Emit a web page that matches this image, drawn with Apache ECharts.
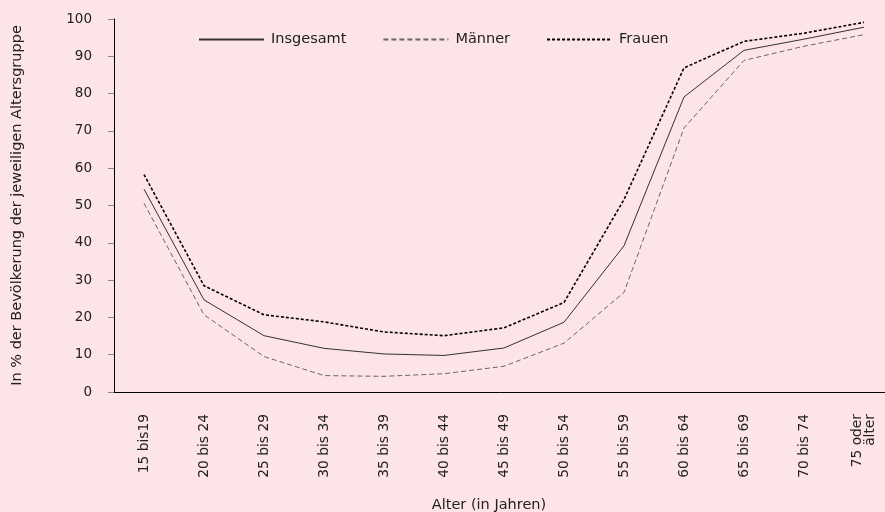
<!DOCTYPE html>
<html>
<head>
<meta charset="utf-8">
<script src="https://cdn.jsdelivr.net/npm/echarts@6/dist/echarts.min.js"></script>
<style>
  html, body { margin: 0; padding: 0; background: #fde4e6; }
  #chart { width: 885px; height: 512px; }
</style>
</head>
<body>
<div id="chart"></div>
<script>
// Altersgruppen
const categories = ['15 bis19', '20 bis 24', '25 bis 29', '30 bis 34', '35 bis 39', '40 bis 44',
  '45 bis 49', '50 bis 54', '55 bis 59', '60 bis 64', '65 bis 69', '70 bis 74', '75 oder\nälter']
// Anteile in %
const insgesamt = [54.4, 24.7, 15.1, 11.7, 10.2, 9.8, 11.8, 18.7, 39.2, 79.1, 91.6, 94.6, 97.8]
const maenner = [50.6, 20.7, 9.5, 4.4, 4.2, 4.9, 6.9, 13.1, 26.7, 70.8, 88.9, 92.7, 95.8]
const frauen = [58.3, 28.5, 20.7, 18.8, 16.1, 15.1, 17.2, 24.0, 51.6, 86.9, 94.0, 96.2, 99.1]
const yTicks = [0, 10, 20, 30, 40, 50, 60, 70, 80, 90, 100]

const font = 'DejaVu Sans'
const chart = echarts.init(document.getElementById('chart'))

const makeLine = function (name, data, color, width, type) {
  return {
    name: name,
    type: 'line',
    data: data,
    symbol: 'none',
    lineStyle: { color: color, width: width, type: type },
    itemStyle: { color: color }
  }
}

const option = {
  backgroundColor: '#fde4e6',
  animation: false,
  textStyle: { fontFamily: font },
  title: {
    text: 'Alter (in Jahren)',
    left: 484,
    top: 493,
    textAlign: 'center',
    textStyle: { fontFamily: font, fontSize: 14.5, fontWeight: 'normal', color: '#222' }
  },
  legend: {
    left: 198,
    top: 32,
    padding: 0,
    itemWidth: 65,
    itemHeight: 10,
    itemGap: 36,
    itemStyle: { opacity: 0 },
    textStyle: { fontFamily: font, fontSize: 14.5, color: '#222', padding: [0, 0, 0, 2] },
    data: ['Insgesamt', 'Männer', 'Frauen']
  },
  grid: { left: 114, width: 780, top: 19, bottom: 120, containLabel: false, outerBoundsMode: 'none' },
  xAxis: {
    type: 'category',
    data: categories,
    axisLine: { lineStyle: { color: '#000', width: 1 } },
    axisTick: { length: 5, lineStyle: { color: '#888' } },
    axisLabel: {
      rotate: 90,
      margin: 22,
      fontFamily: font,
      fontSize: 13.8,
      lineHeight: 13,
      color: '#222'
    }
  },
  yAxis: {
    type: 'value',
    min: yTicks[0],
    max: yTicks[yTicks.length - 1],
    interval: 10,
    name: 'In % der Bevölkerung der jeweiligen Altersgruppe',
    nameLocation: 'middle',
    nameGap: 89,
    nameTextStyle: { fontFamily: font, fontSize: 14.5, color: '#222' },
    axisLine: { show: true, lineStyle: { color: '#000', width: 1 } },
    axisTick: { show: true, length: 6, lineStyle: { color: '#888' } },
    axisLabel: { margin: 22, fontFamily: font, fontSize: 13.5, color: '#222' },
    splitLine: { show: false }
  },
  series: [
    makeLine('Insgesamt', insgesamt, '#333', 1, 'solid'),
    makeLine('Männer', maenner, '#666', 1, [5, 3]),
    makeLine('Frauen', frauen, '#000', 1.6, [3, 2])
  ]
}
chart.setOption(option)
</script>
</body>
</html>
